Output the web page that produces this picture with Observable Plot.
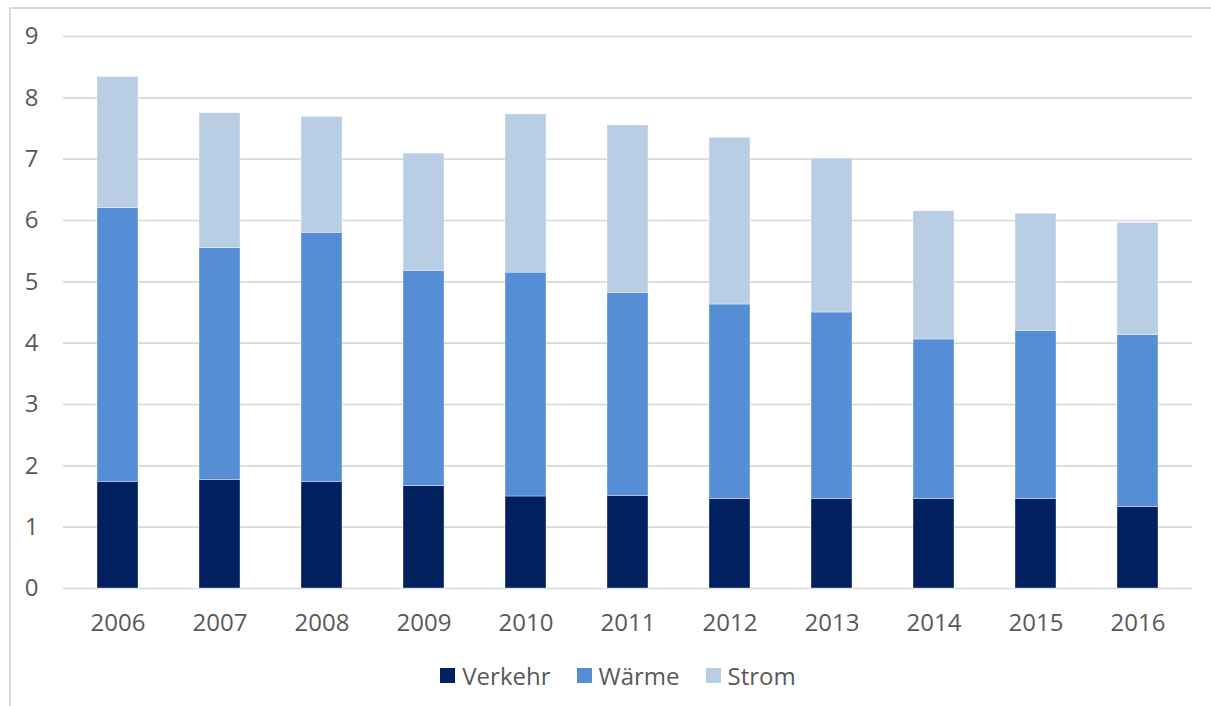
<!DOCTYPE html>
<html>
<head>
<meta charset="utf-8">
<script src="https://cdn.jsdelivr.net/npm/d3@7"></script>
<script src="https://cdn.jsdelivr.net/npm/@observablehq/plot@0.6"></script>
<style>
  html, body { margin: 0; padding: 0; background: #fff; }
  body { width: 1211px; height: 706px; position: relative; overflow: hidden; font-family: "Open Sans", sans-serif; }
  #frame { position: absolute; left: 9px; top: 7px; width: 1300px; height: 800px; border-left: 2px solid #d9d9d9; border-top: 2px solid #d9d9d9; box-sizing: border-box; }
  #chart { position: absolute; left: 0; top: 0; }
  #legend { position: absolute; left: 0; top: 659px; width: 1211px; display: flex; justify-content: center; padding-left: 25px; box-sizing: border-box; font-size: 24px; color: #595959; }
  .item { display: flex; align-items: center; margin: 0 13px; }
  .sw { width: 15px; height: 15px; margin-right: 7px; display: inline-block; }
</style>
</head>
<body>
<div id="frame"></div>
<div id="chart"></div>
<div id="legend"></div>
<script>
const years = ["2006","2007","2008","2009","2010","2011","2012","2013","2014","2015","2016"];
const verkehr = [1.74,1.77,1.74,1.67,1.50,1.51,1.46,1.46,1.46,1.46,1.33];
const waerme  = [4.46,3.78,4.06,3.51,3.65,3.31,3.17,3.04,2.60,2.74,2.80];
const strom   = [2.14,2.20,1.89,1.91,2.58,2.73,2.72,2.51,2.09,1.91,1.83];
const seriesNames = ["Verkehr","Wärme","Strom"];
const seriesColors = ["#002060","#558ED5","#B9CDE5"];
const yTicks = [0,1,2,3,4,5,6,7,8,9];

const seriesValues = [verkehr, waerme, strom];
const data = [];
seriesNames.forEach((s, i) => {
  years.forEach((y, j) => data.push({year: y, series: s, value: seriesValues[i][j]}));
});

const chart = Plot.plot({
  width: 1211,
  height: 640,
  marginLeft: 63,
  marginRight: 19,
  marginTop: 36,
  marginBottom: 52,
  style: {fontFamily: "'Open Sans', sans-serif", fontSize: "24px", color: "#595959", background: "transparent"},
  x: {domain: years, paddingInner: 0.6, paddingOuter: 0.3, label: null},
  y: {domain: [0, 9], label: null},
  color: {domain: seriesNames, range: seriesColors},
  marks: [
    Plot.ruleY(yTicks, {stroke: "#d9d9d9", strokeWidth: 1.6}),
    Plot.barY(data, Plot.stackY({x: "year", y: "value", fill: "series", order: seriesNames, stroke: "#ffffff", strokeWidth: 0.6, strokeOpacity: 0.6})),
    Plot.axisX({tickSize: 0, tickPadding: 25, fontSize: 24}),
    Plot.axisY({ticks: yTicks, tickSize: 0, tickPadding: 25, fontSize: 24, tickFormat: d => String(d)})
  ]
});
document.getElementById("chart").appendChild(chart);

const legend = document.getElementById("legend");
seriesNames.forEach((s, i) => {
  const item = document.createElement("div");
  item.className = "item";
  const sw = document.createElement("span");
  sw.className = "sw";
  sw.style.background = seriesColors[i];
  const t = document.createElement("span");
  t.textContent = s;
  item.appendChild(sw);
  item.appendChild(t);
  legend.appendChild(item);
});
</script>
</body>
</html>
